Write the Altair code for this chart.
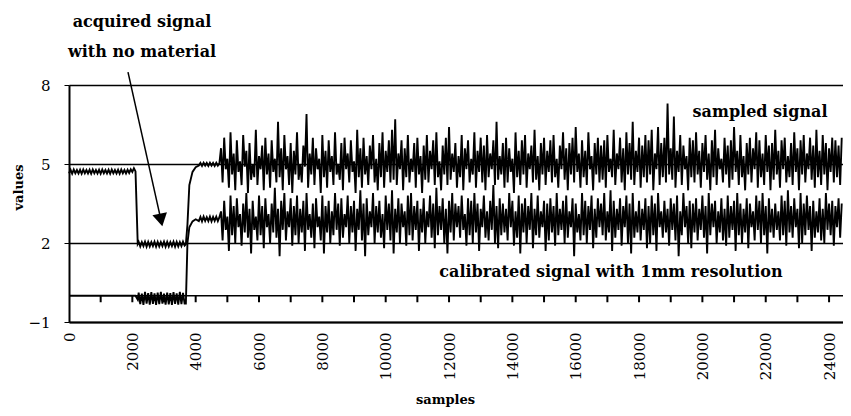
import altair as alt
import pandas as pd

# ---------------- data ----------------
# flat / calibration part of both signals (samples 0 .. 4750)
early_samples = (list(range(0, 2150, 50)) + [2170] + list(range(2200, 3700, 50))
                 + [3690, 3740, 3800, 3900, 4000] + list(range(4100, 4800, 50)))

upper_early = [4.64, 4.78, 4.63, 4.79, 4.65, 4.77, 4.64, 4.78, 4.63, 4.79, 4.65,
               4.77, 4.64, 4.78, 4.63, 4.79, 4.65, 4.77, 4.64, 4.78, 4.63, 4.79,
               4.65, 4.77, 4.64, 4.78, 4.63, 4.79, 4.65, 4.77, 4.64, 4.78, 4.63,
               4.79, 4.65, 4.77, 4.64, 4.78, 4.66, 4.80, 4.70, 4.84, 4.72,
               1.97,
               2.04, 1.87, 2.03, 1.88, 2.05, 1.86, 2.04, 1.87, 2.03, 1.88,
               2.05, 1.86, 2.04, 1.87, 2.03, 1.88, 2.05, 1.86, 2.04, 1.87,
               2.03, 1.88, 2.05, 1.86, 2.04, 1.87, 2.03, 1.88, 2.05, 1.90,
               1.95, 2.7, 4.2, 4.7, 4.88,
               4.94, 5.04, 4.93, 5.05, 4.94, 5.04, 4.93, 5.05, 4.94, 5.04, 4.93, 5.05, 4.94, 5.03]

lower_early = [0.0, 0.0, 0.0, 0.0, 0.0, 0.0, 0.0, 0.0, 0.0, 0.0, 0.0,
               0.0, 0.0, 0.0, 0.0, 0.0, 0.0, 0.0, 0.0, 0.0, 0.0, 0.0,
               0.0, 0.0, 0.0, 0.0, 0.0, 0.0, 0.0, 0.0, 0.0, 0.0, 0.0,
               0.0, 0.0, 0.0, 0.0, 0.0, 0.0, 0.0, 0.0, 0.0, 0.0,
               -0.15,
               0.12, -0.32, 0.08, -0.35, 0.14, -0.30, 0.10, -0.34, 0.13, -0.31,
               0.09, -0.35, 0.12, -0.32, 0.14, -0.30, 0.08, -0.34, 0.12, -0.33,
               0.10, -0.35, 0.13, -0.31, 0.09, -0.34, 0.14, -0.32, 0.11, -0.30,
               -0.3, 2.0, 2.6, 2.82, 2.9,
               2.83, 2.99, 2.82, 3.0, 2.84, 2.98, 2.83, 3.0, 2.82, 2.99, 2.84, 3.0, 2.83, 2.98]

# noisy part (samples 4800 .. 24400, every 50 samples)
noisy_samples = list(range(4800, 24450, 50))

upper_noisy = [
    5.6, 4.3, 6.0, 4.8, 5.2, 4.1, 6.2, 4.6, 5.4, 4.0,
    5.9, 4.7, 5.1, 4.2, 6.1, 4.9, 5.5, 3.9, 5.8, 4.4,
    5.0, 4.5, 6.3, 4.2, 5.3, 4.8, 5.7, 4.0, 6.0, 4.6,
    5.4, 4.1, 5.9, 4.7, 5.2, 4.3, 6.6, 4.5, 5.6, 4.0,
    6.1, 4.8, 5.3, 4.2, 5.8, 3.9, 5.5, 4.6, 6.2, 4.4,
    5.0, 4.3, 5.7, 4.9, 6.9, 4.1, 5.4, 4.6, 6.0, 4.2,
    5.6, 4.8, 5.2, 3.9, 6.1, 4.5, 5.5, 4.1, 5.9, 4.7,
    5.3, 4.2, 6.2, 4.6, 5.0, 4.4, 5.8, 4.0, 6.0, 4.8,
    5.4, 4.3, 5.9, 4.7, 5.1, 3.9, 6.3, 4.5, 5.6, 4.1,
    6.0, 4.6, 5.3, 4.2, 5.7, 4.8, 6.1, 4.3, 5.2, 4.0,
    5.8, 4.5, 6.2, 4.1, 5.5, 4.7, 5.9, 4.3, 6.3, 4.4,
    6.7, 4.2, 5.4, 4.8, 5.9, 4.0, 5.6, 4.5, 6.1, 4.3,
    5.2, 4.7, 5.8, 4.1, 6.0, 4.6, 5.3, 3.9, 5.7, 4.4,
    6.1, 4.3, 5.5, 4.8, 5.9, 4.2, 6.2, 4.5, 5.1, 4.0,
    5.7, 4.6, 6.0, 4.2, 6.4, 4.4, 5.4, 4.7, 5.8, 4.1,
    5.3, 4.5, 6.1, 4.0, 5.6, 4.8, 5.9, 4.3, 5.2, 4.6,
    6.2, 4.1, 5.5, 4.7, 6.0, 4.3, 5.7, 4.0, 6.1, 4.5,
    5.4, 4.8, 5.9, 4.2, 6.6, 4.4, 5.3, 4.6, 5.8, 4.1,
    6.0, 4.3, 5.6, 4.7, 5.2, 3.9, 6.2, 4.5, 5.5, 4.2,
    5.9, 4.6, 6.1, 4.1, 5.4, 4.8, 5.7, 4.3, 6.3, 4.4,
    5.3, 4.0, 5.8, 4.6, 6.0, 4.2, 5.5, 4.7, 5.9, 4.3,
    6.1, 4.5, 5.2, 4.1, 5.7, 4.8, 6.2, 4.4, 5.6, 4.0,
    5.8, 4.6, 6.0, 4.3, 6.4, 4.7, 5.4, 4.1, 5.9, 4.5,
    5.5, 4.2, 6.2, 4.8, 5.3, 4.0, 5.8, 4.6, 6.0, 4.3,
    5.7, 4.4, 5.9, 4.1, 6.1, 4.7, 5.2, 4.5, 6.3, 4.2,
    5.4, 4.8, 6.0, 4.3, 5.6, 4.0, 6.2, 4.6, 5.8, 4.4,
    6.6, 4.2, 5.5, 4.7, 6.0, 4.1, 5.7, 4.5, 6.1, 4.3,
    5.9, 4.6, 6.3, 4.0, 5.4, 4.8, 6.4, 4.2, 5.8, 4.5,
    6.0, 4.3, 7.3, 4.6, 5.6, 4.4, 6.8, 4.1, 5.5, 4.7,
    6.1, 4.2, 5.7, 4.8, 5.3, 4.0, 6.0, 4.5, 5.9, 4.3,
    6.2, 4.6, 5.5, 4.1, 5.8, 4.7, 6.1, 4.4, 5.4, 4.0,
    5.9, 4.5, 6.3, 4.2, 5.6, 4.8, 5.2, 4.3, 6.0, 4.6,
    5.7, 4.1, 5.9, 4.4, 6.4, 4.7, 5.5, 4.2, 6.1, 4.5,
    5.3, 4.0, 5.8, 4.6, 6.0, 4.3, 5.6, 4.8, 6.2, 4.1,
    5.9, 4.5, 5.4, 4.2, 6.1, 4.7, 5.7, 4.0, 5.8, 4.4,
    6.3, 4.6, 5.5, 4.1, 5.9, 4.8, 6.0, 4.3, 5.3, 4.5,
    5.8, 4.2, 6.2, 4.7, 5.6, 4.0, 5.9, 4.6, 6.1, 4.3,
    5.4, 4.8, 6.0, 4.4, 5.7, 4.1, 6.3, 4.5, 5.5, 4.2,
    6.1, 4.6, 5.8, 4.0, 5.6, 4.7, 6.0, 4.3, 5.9, 4.5,
    5.7, 4.2, 6.0,
]

lower_noisy = [
    3.2, 2.1, 3.6, 2.5, 3.0, 1.7, 3.8, 2.3, 3.4, 2.0,
    3.7, 2.6, 3.1, 1.9, 3.5, 2.4, 3.9, 2.2, 3.3, 1.6,
    3.6, 2.5, 3.0, 2.1, 3.8, 2.3, 3.4, 1.8, 3.7, 2.6,
    3.1, 2.0, 3.5, 2.4, 4.1, 2.2, 3.3, 1.5, 3.6, 2.5,
    3.9, 2.1, 3.2, 2.6, 3.7, 1.9, 3.4, 2.3, 3.8, 2.0,
    3.3, 2.4, 3.6, 1.7, 3.9, 2.5, 3.1, 2.2, 3.5, 1.8,
    3.7, 2.6, 3.0, 2.1, 3.8, 1.6, 3.4, 2.4, 3.6, 2.0,
    3.2, 2.3, 3.9, 2.5, 3.5, 1.9, 3.7, 2.2, 3.1, 2.6,
    3.8, 2.0, 3.4, 2.4, 3.6, 1.7, 3.3, 2.5, 4.0, 2.1,
    3.5, 1.5, 3.7, 2.3, 3.2, 2.6, 3.9, 2.0, 3.4, 2.4,
    3.6, 2.2, 3.1, 1.8, 3.8, 2.5, 3.5, 2.1, 4.0, 1.6,
    3.3, 2.4, 3.7, 2.0, 3.5, 2.6, 3.2, 1.9, 3.8, 2.3,
    3.9, 2.1, 3.4, 2.5, 3.6, 1.7, 3.3, 2.4, 3.7, 2.0,
    3.2, 2.6, 3.8, 2.2, 3.5, 1.8, 4.1, 2.3, 3.4, 2.5,
    3.7, 2.0, 3.3, 1.6, 3.6, 2.4, 3.9, 2.1, 3.5, 2.6,
    3.4, 2.2, 3.8, 2.5, 3.1, 1.9, 3.7, 2.3, 3.6, 2.0,
    3.9, 2.4, 3.5, 1.7, 3.3, 2.6, 3.8, 2.2, 3.2, 2.1,
    3.6, 2.5, 4.2, 2.0, 3.4, 1.8, 3.7, 2.3, 3.5, 2.4,
    3.3, 2.1, 3.9, 2.6, 3.6, 1.9, 3.2, 2.2, 3.8, 1.6,
    3.5, 2.4, 3.7, 2.0, 3.4, 2.5, 3.9, 1.8, 3.3, 2.3,
    3.8, 2.2, 3.2, 2.6, 3.6, 1.7, 3.5, 2.1, 3.7, 2.4,
    3.4, 1.9, 3.9, 2.3, 3.3, 2.5, 3.6, 2.0, 3.8, 2.2,
    3.2, 2.6, 3.7, 1.5, 3.5, 2.4, 3.1, 2.1, 3.9, 2.3,
    3.6, 2.0, 3.4, 2.5, 3.8, 1.8, 3.3, 2.2, 3.7, 2.6,
    3.5, 2.3, 3.9, 2.1, 3.2, 2.4, 4.0, 1.7, 3.6, 2.2,
    3.3, 2.5, 3.7, 1.9, 3.4, 2.6, 3.8, 2.0, 3.5, 1.6,
    3.9, 2.2, 3.2, 2.4, 3.6, 2.1, 3.3, 2.5, 3.7, 1.8,
    3.4, 2.0, 3.8, 2.3, 3.5, 1.7, 3.9, 2.6, 3.2, 2.2,
    3.6, 2.4, 3.3, 1.9, 3.7, 2.5, 3.5, 2.1, 3.8, 1.5,
    3.2, 2.3, 3.9, 2.6, 3.4, 2.0, 3.6, 1.8, 3.5, 2.4,
    3.7, 2.1, 3.3, 2.5, 3.8, 2.2, 3.4, 1.6, 3.9, 2.3,
    3.5, 2.6, 3.6, 2.0, 3.2, 2.4, 3.7, 2.1, 3.3, 1.9,
    3.8, 2.2, 3.4, 2.5, 3.6, 1.7, 3.9, 2.3, 3.5, 2.0,
    3.3, 2.4, 3.7, 1.8, 3.5, 2.6, 3.2, 2.1, 3.8, 2.5,
    3.6, 2.0, 3.9, 2.3, 3.4, 1.6, 3.7, 2.4, 3.3, 2.2,
    3.5, 2.5, 3.2, 2.1, 3.8, 2.3, 3.6, 1.9, 4.0, 2.4,
    3.4, 2.2, 3.7, 2.6, 3.3, 1.8, 3.9, 2.0, 3.5, 2.3,
    3.8, 2.5, 3.4, 1.7, 3.6, 2.2, 3.2, 2.4, 3.7, 2.1,
    3.3, 2.0, 3.9, 2.5, 3.5, 2.3, 3.6, 1.9, 3.4, 2.6,
    3.7, 2.2, 3.5,
]

x_tick_labels = list(range(0, 24001, 2000))
y_tick_labels = [-1, 2, 5, 8]
minor_ticks = list(range(1000, 24001, 1000))
minor_tick_top = 0.0
minor_tick_bottom = -0.25

note_texts = ["acquired signal", "with no material", "sampled signal",
              "calibrated signal with 1mm resolution"]
note_x = [2305, 2305, 21820, 17114]
note_y = [10.39, 9.25, 6.98, 0.90]

arrow_from = (1863, 8.49)
arrow_to = (2905, 2.87)
arrow_head = (2905, 2.87)

# ---------------- tables ----------------
samples_all = early_samples + noisy_samples
df = pd.concat([
    pd.DataFrame({"sample": samples_all, "value": upper_early + upper_noisy, "signal": "upper"}),
    pd.DataFrame({"sample": samples_all, "value": lower_early + lower_noisy, "signal": "lower"}),
])

FONT = "DejaVu Serif"
xscale = alt.Scale(domain=[0, 24440], nice=False, zero=False)
yscale = alt.Scale(domain=[-1, 8], nice=False, zero=False)

lines = alt.Chart(df).mark_line(color="black", strokeWidth=1.9).encode(
    x=alt.X("sample:Q", scale=xscale, title="samples",
            axis=alt.Axis(values=x_tick_labels, labelAngle=-90, ticks=False, grid=False,
                          domainColor="black", domainWidth=2, labelFont=FONT, labelFontSize=15,
                          labelColor="black", labelPadding=10, format="d",
                          titleFont=FONT, titleFontSize=13, titleFontWeight="bold",
                          titleColor="black", titleY=84, titleX=376, titleBaseline="bottom")),
    y=alt.Y("value:Q", scale=yscale, title="values",
            axis=alt.Axis(values=y_tick_labels, grid=True, gridColor="black", gridWidth=1.5,
                          gridOpacity=1, domainColor="black", domainWidth=2, tickColor="black",
                          tickSize=5, labelFont=FONT, labelFontSize=15, labelColor="black",
                          labelPadding=14, titleFont=FONT, titleFontSize=13,
                          titleFontWeight="bold", titleColor="black", titleX=-51, titleY=102,
                          titleAngle=-90, titleBaseline="middle")),
    detail="signal:N",
    order="sample:Q",
)

zero_line = alt.Chart(pd.DataFrame({"value": [0]})).mark_rule(color="black", strokeWidth=1.5).encode(
    y=alt.Y("value:Q", scale=yscale))

ticks = alt.Chart(pd.DataFrame({"sample": minor_ticks,
                                "value": [minor_tick_top] * len(minor_ticks),
                                "value2": [minor_tick_bottom] * len(minor_ticks)})).mark_rule(
    color="black", strokeWidth=2).encode(
    x=alt.X("sample:Q", scale=xscale),
    y=alt.Y("value:Q", scale=yscale), y2="value2:Q")

notes = alt.Chart(pd.DataFrame({"sample": note_x, "value": note_y, "t": note_texts})).mark_text(
    font=FONT, fontSize=16, fontWeight="bold", color="black", align="center", baseline="middle").encode(
    x=alt.X("sample:Q", scale=xscale),
    y=alt.Y("value:Q", scale=yscale),
    text="t:N")

arrow = alt.Chart(pd.DataFrame({"sample": [arrow_from[0]], "value": [arrow_from[1]],
                                "sample2": [arrow_to[0]], "value2": [arrow_to[1]]})).mark_rule(
    color="black", strokeWidth=1.5).encode(
    x=alt.X("sample:Q", scale=xscale), y=alt.Y("value:Q", scale=yscale),
    x2="sample2:Q", y2="value2:Q")

head = alt.Chart(pd.DataFrame({"sample": [arrow_head[0]], "value": [arrow_head[1]]})).mark_point(
    shape="triangle-down", filled=True, size=220, angle=348, color="black", opacity=1).encode(
    x=alt.X("sample:Q", scale=xscale), y=alt.Y("value:Q", scale=yscale))

chart = alt.layer(lines, zero_line, ticks, notes, arrow, head).properties(
    width=774, height=237,
    autosize=alt.AutoSizeParams(type="none"),
    padding={"left": 61, "top": 77, "right": 0, "bottom": 86},
).configure_view(strokeWidth=0).configure(background="white")

chart.save("out.html", embed_options={"renderer": "svg", "actions": False})
